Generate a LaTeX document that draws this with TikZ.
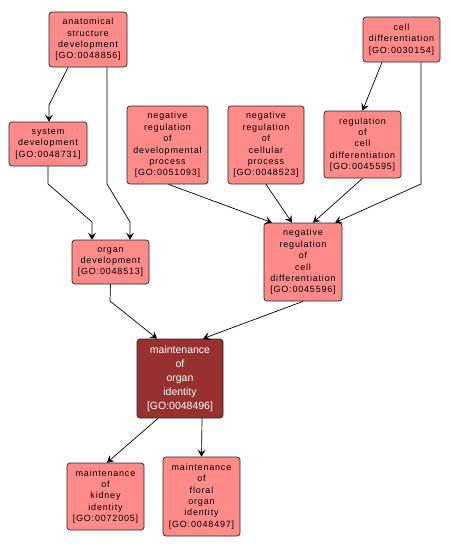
\documentclass[tikz,border=0pt]{standalone}
\usepackage{fontspec}
\setmainfont{Liberation Sans}
\newfontfamily\pinkfont[LetterSpace=9]{Liberation Sans}
\usetikzlibrary{arrows.meta}
\definecolor{pinkfill}{RGB}{255,138,138}
\definecolor{darkfill}{RGB}{153,48,48}
\tikzset{
  goterm/.style={draw=black!85, line width=0.7pt, rounded corners=3pt, fill=pinkfill,
    align=center, inner sep=0pt, font=\pinkfont\fontsize{9}{11.4}\selectfont},
  goroot/.style={goterm, fill=darkfill, text=white, font=\fontsize{10.5}{14}\selectfont},
  arr/.style={draw=black, line width=0.7pt, -{Stealth[length=7pt,width=8pt,inset=3pt]}}
}
\begin{document}
\begin{tikzpicture}[x=1pt,y=-1pt]
\useasboundingbox[fill=white] (0,0) rectangle (450,549);
\node[goterm, minimum width=78pt, minimum height=55pt] (anat) at (88,39.5) {anatomical\\structure\\development\\{[GO:0048856]}};
\node[goterm, minimum width=77pt, minimum height=45pt] (celld) at (401.5,39.5) {cell\\differentiation\\{[GO:0030154]}};
\node[goterm, minimum width=78pt, minimum height=44pt] (sysd) at (48,144) {system\\development\\{[GO:0048731]}};
\node[goterm, minimum width=81pt, minimum height=78pt] (nrdp) at (167.5,145) {negative\\regulation\\of\\developmental\\process\\{[GO:0051093]}};
\node[goterm, minimum width=76pt, minimum height=78pt] (nrcp) at (266,145) {negative\\regulation\\of\\cellular\\process\\{[GO:0048523]}};
\node[goterm, minimum width=77pt, minimum height=67pt] (rcd) at (362.5,144.5) {regulation\\of\\cell\\differentiation\\{[GO:0045595]}};
\node[goterm, minimum width=77pt, minimum height=44pt] (orgd) at (110.5,262) {organ\\development\\{[GO:0048513]}};
\node[goterm, minimum width=78pt, minimum height=78pt] (nrcd) at (303,262) {negative\\regulation\\of\\cell\\differentiation\\{[GO:0045596]}};
\node[goroot, minimum width=86pt, minimum height=79pt] (moi) at (180,378.5) {maintenance\\of\\organ\\identity\\{[GO:0048496]}};
\node[goterm, minimum width=77pt, minimum height=67pt] (kid) at (105.5,496.5) {maintenance\\of\\kidney\\identity\\{[GO:0072005]}};
\node[goterm, minimum width=77pt, minimum height=79pt] (flo) at (201.5,496.5) {maintenance\\of\\floral\\organ\\identity\\{[GO:0048497]}};

\coordinate (b1) at (49,105);
\coordinate (b2a) at (107,184);
\coordinate (b2b) at (130,222);
\coordinate (b3a) at (48,184);
\coordinate (b3b) at (92,222);
\coordinate (b7) at (421,184);
\coordinate (b9) at (110,301);

\draw[arr] ([xshift=-20pt]anat.south) -- (b1) -- (sysd.north -| b1);
\draw[arr] ([xshift=19pt]anat.south) -- (b2a) -- (b2b) -- (orgd.north -| b2b);
\draw[arr] (sysd.south) -- (b3a) -- (b3b) -- (orgd.north -| b3b);
\draw[arr] ([xshift=1pt]nrdp.south) -- ([xshift=-31pt]nrcd.north);
\draw[arr] (nrcp.south) -- ([xshift=-11pt]nrcd.north);
\draw[arr] (rcd.south) -- ([xshift=10pt]nrcd.north);
\draw[arr] (celld.south -| b7) -- (b7) -- ([xshift=32pt]nrcd.north);
\draw[arr] ([xshift=-19.5pt]celld.south) -- (rcd.north);
\draw[arr] (orgd.south) -- (b9) -- ([xshift=-23pt]moi.north);
\draw[arr] (nrcd.south) -- ([xshift=23pt]moi.north);
\draw[arr] ([xshift=-22pt]moi.south) -- ([xshift=1.5pt]kid.north);
\draw[arr] ([xshift=22pt]moi.south) -- (flo.north);
\end{tikzpicture}
\end{document}
